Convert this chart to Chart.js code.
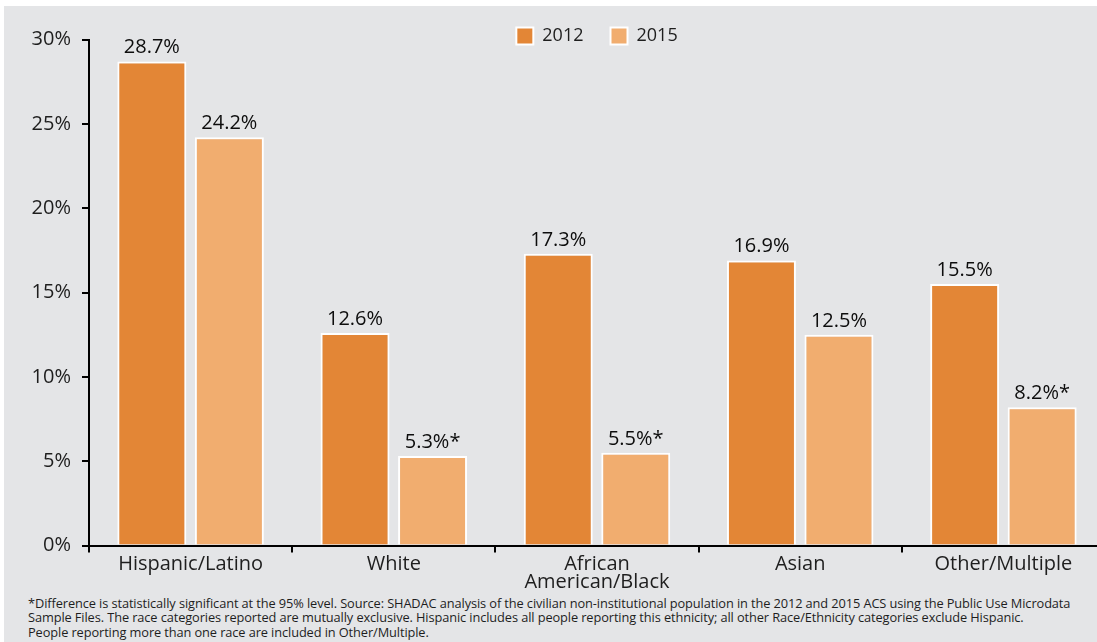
<!DOCTYPE html>
<html>
<head>
<meta charset="utf-8">
<script src="https://cdn.jsdelivr.net/npm/chart.js@4/dist/chart.umd.min.js"></script>
<style>
  html, body { margin: 0; padding: 0; width: 1097px; height: 642px; overflow: hidden; background: #ffffff; }
  #bg { position: absolute; left: 4px; top: 6px; width: 1093px; height: 636px; background: #e4e5e7; }
  #wrap { position: absolute; left: 0; top: 0; width: 1110px; height: 592px; }
  #note { position: absolute; left: 28px; top: 595.5px; font-family: "Open Sans", sans-serif; font-size: 12.8px; line-height: 14.8px; color: #1e1e1e; white-space: nowrap; letter-spacing: -0.1px; }
</style>
</head>
<body>
<div id="bg"></div>
<div id="wrap"><canvas id="c"></canvas></div>
<div id="note">*Difference is statistically significant at the 95% level. Source: SHADAC analysis of the civilian non-institutional population in the 2012 and 2015 ACS using the Public Use Microdata<br>Sample Files. The race categories reported are mutually exclusive. Hispanic includes all people reporting this ethnicity; all other Race/Ethnicity categories exclude Hispanic.<br>People reporting more than one race are included in Other/Multiple.</div>
<script>
const categories = ['Hispanic/Latino', 'White', ['African', 'American/Black'], 'Asian', 'Other/Multiple'];
const seriesNames = ['2012', '2015'];
const values2012 = [28.7, 12.6, 17.3, 16.9, 15.5];
const values2015 = [24.2, 5.3, 5.5, 12.5, 8.2];
const marks2012 = ['', '', '', '', ''];
const marks2015 = ['', '*', '*', '', '*'];
const yTicks = [0, 5, 10, 15, 20, 25, 30];

const FONT = '"Open Sans", sans-serif';
const TEXT = '#1e1e1e';

const valueLabels = {
  id: 'valueLabels',
  afterDatasetsDraw(chart) {
    const ctx = chart.ctx;
    const marks = [marks2012, marks2015];
    ctx.save();
    ctx.font = '20px ' + FONT;
    ctx.fillStyle = '#0d0d0d';
    ctx.textAlign = 'center';
    ctx.textBaseline = 'alphabetic';
    chart.data.datasets.forEach((ds, di) => {
      chart.getDatasetMeta(di).data.forEach((bar, i) => {
        ctx.fillText(ds.data[i].toFixed(1) + '%' + marks[di][i], bar.x, bar.y - 8);
      });
    });
    ctx.restore();
  }
};

// let the legend box (used for clipping) reach below the plot top without moving the plot
const legendRoom = {
  id: 'legendRoom',
  afterLayout(chart) {
    const l = chart.legend;
    if (l) { l.bottom = l.top + 60; l.height = 60; }
  }
};

function draw() {
  new Chart(document.getElementById('c'), {
    type: 'bar',
    data: {
      labels: categories,
      datasets: [
        { label: seriesNames[0], data: values2012, backgroundColor: '#e38636', borderColor: '#ffffff', borderWidth: 2 },
        { label: seriesNames[1], data: values2015, backgroundColor: '#f1ad6f', borderColor: '#ffffff', borderWidth: 2 }
      ]
    },
    options: {
      responsive: true,
      maintainAspectRatio: false,
      animation: false,
      categoryPercentage: 0.763,
      barPercentage: 0.89,
      layout: { padding: { top: 0, left: 0, right: 5, bottom: 0 } },
      plugins: {
        legend: {
          position: 'top',
          fullSize: false,
          maxHeight: 39.5,
          labels: {
            boxWidth: 17, boxHeight: 17, padding: 27,
            color: TEXT,
            font: { family: FONT, size: 18 }
          }
        },
        tooltip: { enabled: false }
      },
      scales: {
        x: {
          offset: true,
          border: { display: true, color: '#000', width: 2 },
          grid: { display: true, drawOnChartArea: false, color: '#000', lineWidth: 2, tickLength: 7, offset: true },
          ticks: { color: TEXT, padding: 3, font: { family: FONT, size: 20, lineHeight: 0.9 }, maxRotation: 0, autoSkip: false },
          afterFit(scale) { scale.height = 46.5; }
        },
        y: {
          min: 0, max: 30,
          afterBuildTicks(scale) { scale.ticks = yTicks.map(v => ({ value: v })); },
          border: { display: true, color: '#000', width: 2 },
          grid: { display: true, drawOnChartArea: false, color: '#000', lineWidth: 2, tickLength: 7 },
          ticks: { color: TEXT, padding: 11, font: { family: FONT, size: 20 }, callback: v => v + '%' },
          afterFit(scale) { scale.width = 89; }
        }
      }
    },
    plugins: [valueLabels, legendRoom]
  });
}

if (document.fonts && document.fonts.load) {
  document.fonts.load('20px "Open Sans"').then(draw, draw);
} else { draw(); }
</script>
</body>
</html>
